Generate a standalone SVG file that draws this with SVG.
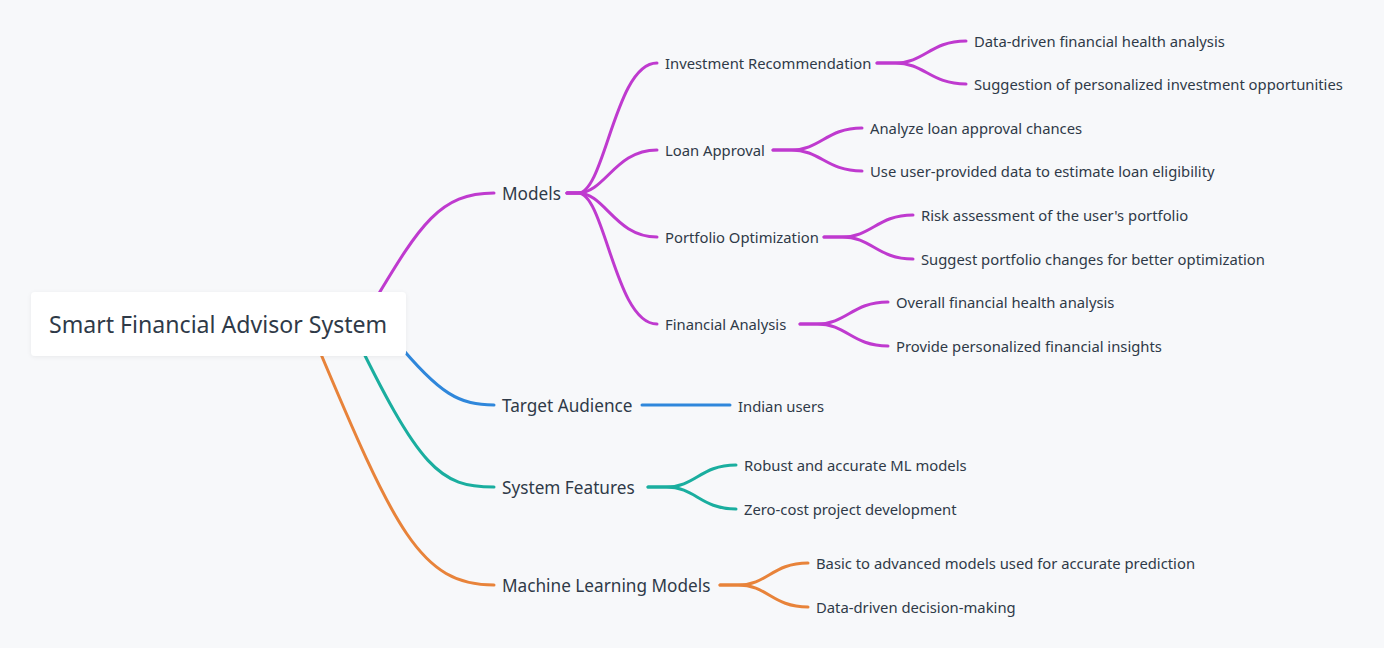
<svg xmlns="http://www.w3.org/2000/svg" width="1384" height="648" viewBox="0 0 1384 648">
<defs>
<style>
.t{font-family:"Noto Sans","Liberation Sans",sans-serif;fill:#2f3a48}
.t1{font-size:17.2px}
.t2{font-size:14.8px}
.root{font-size:23.1px}
.c{fill:none;stroke-width:3;stroke-linecap:round}
.p{stroke:#bf3acf}.b{stroke:#2f87db}.g{stroke:#1aae9f}.o{stroke:#e8833a}
</style>
<filter id="sh" x="-10%" y="-30%" width="120%" height="160%">
<feDropShadow dx="0" dy="1" stdDeviation="2" flood-color="#000" flood-opacity="0.06"/>
</filter>
</defs>
<rect width="1384" height="648" fill="#f7f8fa"/>
<g id="connectors">
<path class="c p" d="M375,300 C420,225 440,193 494,193"/>
<path class="c b" d="M395,340 C440,395 460,405 494,405"/>
<path class="c g" d="M350,325 C420,470 440,487 494,487"/>
<path class="c o" d="M315,340 C395,530 420,585 494,585"/>
<path class="c p" d="M567,193 H578 C605,193 615,63 657,63"/>
<path class="c p" d="M567,193 H578 C605,193 615,150 657,150"/>
<path class="c p" d="M567,193 H578 C605,193 615,237 657,237"/>
<path class="c p" d="M567,193 H578 C605,193 615,324 657,324"/>
<path class="c p" d="M877,63 H895 C925,63 930,41 966,41"/>
<path class="c p" d="M877,63 H895 C925,63 930,84 966,84"/>
<path class="c p" d="M773,150 H791 C821,150 826,128 862,128"/>
<path class="c p" d="M773,150 H791 C821,150 826,171 862,171"/>
<path class="c p" d="M824,237 H842 C872,237 877,215 913,215"/>
<path class="c p" d="M824,237 H842 C872,237 877,259 913,259"/>
<path class="c p" d="M800,324 H817 C847,324 852,302 888,302"/>
<path class="c p" d="M800,324 H817 C847,324 852,346 888,346"/>
<path class="c b" d="M642,405 H730"/>
<path class="c g" d="M648,487 H666 C696,487 700,465 736,465"/>
<path class="c g" d="M648,487 H666 C696,487 700,509 736,509"/>
<path class="c o" d="M720,585 H738 C768,585 772,563 808,563"/>
<path class="c o" d="M720,585 H738 C768,585 772,607 808,607"/>
</g>
<g id="root">
<rect x="31" y="292" width="375" height="64" rx="4" fill="#fff" filter="url(#sh)"/>
<text class="t root" x="49" y="333">Smart Financial Advisor System</text>
</g>
<g id="models"><text class="t t1" x="502" y="200">Models</text></g>
<g id="invest"><text class="t t2" x="665" y="69">Investment Recommendation</text></g>
<g id="invest-1"><text class="t t2" x="974" y="47">Data-driven financial health analysis</text></g>
<g id="invest-2"><text class="t t2" x="974" y="90">Suggestion of personalized investment opportunities</text></g>
<g id="loan"><text class="t t2" x="665" y="156">Loan Approval</text></g>
<g id="loan-1"><text class="t t2" x="870" y="134">Analyze loan approval chances</text></g>
<g id="loan-2"><text class="t t2" x="870" y="177">Use user-provided data to estimate loan eligibility</text></g>
<g id="portfolio"><text class="t t2" x="665" y="243">Portfolio Optimization</text></g>
<g id="portfolio-1"><text class="t t2" x="921" y="221">Risk assessment of the user's portfolio</text></g>
<g id="portfolio-2"><text class="t t2" x="921" y="265">Suggest portfolio changes for better optimization</text></g>
<g id="analysis"><text class="t t2" x="665" y="330">Financial Analysis</text></g>
<g id="analysis-1"><text class="t t2" x="896" y="308">Overall financial health analysis</text></g>
<g id="analysis-2"><text class="t t2" x="896" y="352">Provide personalized financial insights</text></g>
<g id="audience"><text class="t t1" x="502" y="412">Target Audience</text></g>
<g id="audience-1"><text class="t t2" x="738" y="412">Indian users</text></g>
<g id="features"><text class="t t1" x="502" y="494">System Features</text></g>
<g id="features-1"><text class="t t2" x="744" y="471">Robust and accurate ML models</text></g>
<g id="features-2"><text class="t t2" x="744" y="515">Zero-cost project development</text></g>
<g id="ml"><text class="t t1" x="502" y="592">Machine Learning Models</text></g>
<g id="ml-1"><text class="t t2" x="816" y="569">Basic to advanced models used for accurate prediction</text></g>
<g id="ml-2"><text class="t t2" x="816" y="613">Data-driven decision-making</text></g>
</svg>
